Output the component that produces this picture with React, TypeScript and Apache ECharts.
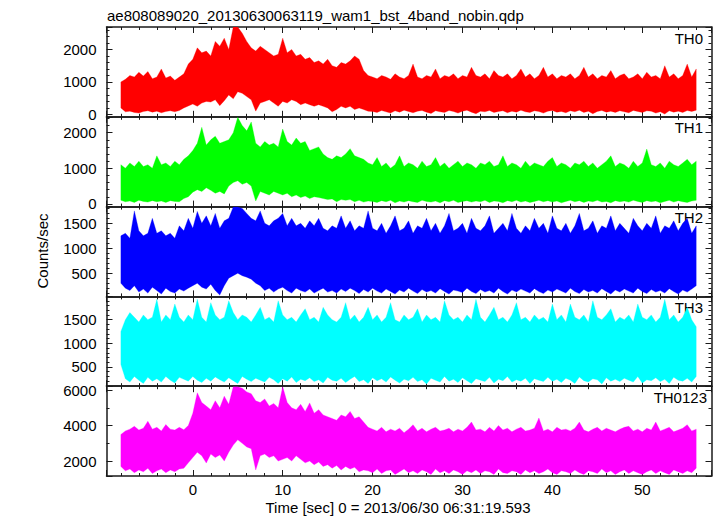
import React, { useEffect, useRef } from 'react';
import * as echarts from 'echarts';

const TITLE = 'ae808089020_20130630063119_wam1_bst_4band_nobin.qdp';
const X_LABEL = 'Time [sec] 0 = 2013/06/30 06:31:19.593';
const Y_LABEL = 'Counts/sec';

// time bins: first bin time and bin width (sec)
const T_START = -8;
const T_STEP = 0.5;
const X_MIN = -9.6;
const X_MAX = 57.7;
const X_INTERVAL = 10;

const bandNames = ['TH0', 'TH1', 'TH2', 'TH3', 'TH0123'];
const bandColors = ['#ff0000', '#00ff00', '#0000ff', '#00ffff', '#ff00ff'];
const yMins = [-74, -76, 34, 93, 1160];
const yMaxs = [2693, 2445, 1836, 1992, 6220];
const yIntervals = [1000, 1000, 500, 500, 2000];
const yMinorSplits = [5, 5, 5, 5, 2];

// upper / lower envelopes of each light curve per 0.5 s bin (counts/sec)
const th0High = [
  1000, 1080, 1200, 1150, 1300, 1180, 1320, 1100, 1150, 1400, 1120, 1180, 1050, 1150, 1250, 1550,
  1700, 2050, 1900, 1950, 1800, 2250, 2100, 2350, 2000, 2690, 2690, 2500, 2250, 2050, 1950, 2100,
  2000, 1900, 1800, 1850, 2350, 1900, 2000, 1800, 1850, 1700, 1750, 1600, 1650, 1550, 1700, 1500,
  1450, 1600, 1550, 1650, 1800, 1700, 1350, 1200, 1150, 1100, 1200, 1150, 1080, 1250, 1150, 1100,
  1200, 1550, 1150, 1100, 1200, 1150, 1400, 1100, 1200, 1150, 1250, 1100, 1200, 1150, 1450, 1200,
  1150, 1250, 1100, 1350, 1200, 1150, 1250, 1100, 1200, 1400, 1150, 1250, 1100, 1200, 1450, 1150,
  1250, 1100, 1200, 1150, 1250, 1100, 1200, 1450, 1150, 1250, 1100, 1200, 1150, 1350, 1100, 1200,
  1250, 1100, 1150, 1250, 1100, 1300, 1150, 1200, 1100, 1500, 1150, 1250, 1100, 1200, 1550, 1150,
  1400,
];
const th0Low = [
  200, 80, 100, 60, 40, 90, 110, 70, 100, 50, 90, 110, 80, 120, 200, 260,
  320, 250, 350, 400, 380, 450, 270, 420, 600, 480, 700, 650, 550, 450, 100, 350,
  400, 450, 350, 250, 400, 350, 450, 400, 300, 350, 300, 250, 300, 250, 200, 80,
  150, 250, 200, 250, 150, 200, 150, 100, 90, 60, 120, 80, 40, 110, 70, 130,
  90, 50, 100, 120, 70, 30, 110, 80, 60, 120, 90, 40, 100, 130, 70, 20,
  100, 80, 120, 60, 90, 110, 50, 100, 70, 130, 80, 60, 110, 90, 40, 100,
  120, 70, 90, 50, 110, 80, 130, 60, 100, 20, 90, 120, 70, 100, 60, 110,
  80, 50, 120, 90, 60, 110, 100, 40, 80, 10, 110, 70, 100, 60, 120, 90,
  130,
];
const th1High = [
  1100, 1000, 1150, 1050, 1200, 1050, 1100, 1000, 1350, 1100, 1150, 1050, 1200, 1100, 1250, 1350,
  1500, 1700, 2150, 1650, 1800, 1900, 1700, 1750, 1800, 2000, 2430, 2200, 2050, 2300, 1700, 1600,
  1750, 1650, 1700, 1600, 2100, 1750, 1650, 1850, 1700, 1750, 1500, 1550, 1600, 1400, 1300, 1250,
  1350, 1300, 1400, 1550, 1350, 1300, 1250, 1150, 1100, 1300, 1050, 1150, 1000, 1100, 1350, 1050,
  1150, 1100, 1000, 1200, 1050, 1100, 1300, 1050, 1150, 1000, 1100, 1200, 1050, 1150, 1100, 1000,
  1150, 1100, 1200, 1050, 1100, 1350, 1050, 1150, 1100, 1000, 1200, 1050, 1150, 1100, 1050, 1200,
  1300, 1050, 1150, 1100, 1000, 1150, 1100, 1200, 1050, 1150, 1000, 1100, 1200, 1350, 1050, 1150,
  1100, 1000, 1200, 1050, 1150, 1540, 1100, 1050, 1150, 1000, 1200, 1100, 1050, 1150, 1250, 1100,
  1200,
];
const th1Low = [
  100, 60, 80, 40, 100, 70, 50, 90, 60, 80, 40, 90, 70, 60, 150, 200,
  330, 400, 350, 450, 380, 300, 350, 280, 500, 600, 650, 550, 600, 500, 80, 350,
  300, 250, 350, 300, 250, 300, 200, 250, 180, 220, 150, 200, 180, 150, 120, 140,
  60, 120, 100, 120, 60, 100, 50, 80, 70, 40, 90, 60, 100, 30, 80, 50,
  90, 60, 40, 100, 70, 50, 80, 30, 90, 60, 100, 40, 70, 90, 50, 80,
  60, 100, 40, 80, 70, 30, 90, 60, 100, 50, 80, 40, 70, 100, 60, 90,
  50, 80, 30, 70, 100, 60, 90, 40, 80, 60, 100, 50, 70, 30, 90, 60,
  80, 50, 100, 70, 40, 90, 60, 80, 30, 70, 100, 50, 90, 60, 40, 80,
  100,
];
const th2High = [
  1250, 1300, 1200, 1750, 1350, 1250, 1300, 1600, 1300, 1350, 1250, 1300, 1200, 1450, 1350, 1600,
  1400, 1740, 1500, 1650, 1450, 1700, 1400, 1550, 1600, 1830, 1830, 1800, 1700, 1600, 1550, 1750,
  1500, 1450, 1550, 1600, 1700, 1450, 1600, 1450, 1500, 1400, 1550, 1450, 1600, 1400, 1350, 1450,
  1400, 1650, 1400, 1550, 1350, 1450, 1400, 1750, 1400, 1350, 1500, 1300, 1450, 1650, 1350, 1400,
  1550, 1300, 1450, 1400, 1600, 1350, 1500, 1300, 1450, 1700, 1350, 1400, 1500, 1300, 1600, 1400,
  1350, 1450, 1650, 1300, 1400, 1500, 1350, 1700, 1400, 1300, 1450, 1350, 1600, 1400, 1500, 1300,
  1650, 1400, 1350, 1500, 1300, 1450, 1700, 1350, 1400, 1550, 1300, 1450, 1400, 1650, 1350, 1500,
  1400, 1300, 1600, 1450, 1350, 1500, 1400, 1650, 1300, 1450, 1400, 1550, 1350, 1500, 1600, 1300,
  1450,
];
const th2Low = [
  300, 200, 150, 250, 120, 180, 100, 220, 150, 80, 200, 130, 100, 180, 140, 200,
  250, 300, 220, 180, 280, 150, 60, 250, 400, 450, 500, 450, 420, 380, 300, 250,
  150, 200, 120, 180, 220, 150, 100, 200, 150, 120, 180, 100, 150, 200, 120, 150,
  100, 180, 130, 200, 150, 90, 170, 120, 200, 140, 100, 180, 130, 80, 160, 120,
  200, 140, 90, 170, 120, 150, 100, 190, 130, 80, 160, 140, 110, 200, 130, 90,
  170, 120, 150, 100, 200, 130, 80, 160, 120, 180, 140, 100, 190, 130, 90, 160,
  120, 180, 140, 100, 200, 130, 90, 170, 120, 150, 100, 190, 130, 80, 160, 120,
  180, 140, 100, 200, 130, 90, 170, 120, 150, 100, 190, 130, 80, 160, 120, 180,
  250,
];
const th3High = [
  1250, 1500, 1650, 1550, 1450, 1600, 1500, 1550, 1930, 1450, 1600, 1500, 1830, 1550, 1450, 1600,
  1500, 1930, 1550, 1450, 1860, 1600, 1500, 1550, 1900, 1650, 1500, 1600, 1550, 1450, 1600, 1760,
  1500, 1550, 1450, 1900, 1600, 1500, 1550, 1450, 1600, 1730, 1500, 1550, 1450, 1760, 1600, 1500,
  1450, 1550, 1860, 1500, 1600, 1450, 1550, 1760, 1500, 1600, 1450, 1550, 1860, 1500, 1450, 1600,
  1500, 1550, 1730, 1450, 1600, 1500, 1550, 1450, 1900, 1600, 1500, 1550, 1450, 1600, 1500, 1930,
  1550, 1450, 1600, 1760, 1500, 1550, 1450, 1600, 1860, 1500, 1550, 1450, 1600, 1500, 1550, 1450,
  1830, 1500, 1600, 1450, 1830, 1550, 1500, 1600, 1450, 1900, 1550, 1500, 1600, 1730, 1450, 1550,
  1500, 1600, 1450, 1830, 1550, 1500, 1600, 1450, 1550, 1930, 1500, 1600, 1450, 1550, 1760, 1500,
  1350,
];
const th3Low = [
  550, 250, 180, 300, 220, 150, 280, 200, 250, 180, 300, 220, 160, 280, 240, 200,
  300, 220, 170, 260, 200, 290, 230, 180, 270, 210, 150, 300, 240, 190, 260, 220,
  180, 280, 230, 150, 250, 200, 290, 170, 240, 210, 270, 190, 230, 160, 280, 220,
  200, 260, 170, 240, 300, 190, 230, 150, 270, 210, 250, 180, 290, 220, 160, 240,
  210, 280, 190, 230, 140, 260, 220, 180, 300, 200, 240, 170, 270, 210, 150, 250,
  220, 190, 280, 160, 240, 210, 300, 180, 230, 200, 260, 150, 250, 220, 190, 280,
  200, 240, 170, 260, 220, 150, 290, 210, 180, 250, 230, 140, 270, 200, 240, 190,
  260, 220, 180, 300, 160, 230, 210, 270, 190, 240, 150, 280, 220, 200, 260, 180,
  300,
];
const th0123High = [
  3500, 3700, 3800, 3960, 3750, 3850, 4245, 3800, 3900, 3700, 4060, 3800, 3750, 3900, 3770, 4000,
  4700, 5850, 5300, 5100, 4900, 5400, 5000, 5660, 5200, 6190, 6190, 6100, 5900, 5800, 5400, 5300,
  5500, 5100, 5250, 5000, 6190, 5300, 5000, 4900, 5200, 4800, 5280, 4700, 4900, 4600, 4500, 4400,
  4300, 4600, 4500, 4800, 4400, 4500, 4200, 3900, 3800, 3700, 3900, 3650, 3800, 3700, 3850, 3600,
  3800, 4050, 3700, 3850, 3650, 3800, 3900, 3700, 3750, 3850, 3650, 3800, 3700, 3900, 4200, 3750,
  3800, 3650, 3900, 3700, 4000, 3750, 3850, 3650, 3800, 3900, 3700, 3750, 3850, 4430, 3700, 3800,
  3650, 3900, 3750, 3800, 3700, 3850, 4200, 3750, 3650, 3800, 3900, 3700, 3850, 3750, 3650, 3800,
  3900, 3960, 3700, 3800, 3650, 3850, 3750, 4200, 3700, 3800, 3900, 3650, 3750, 3850, 4050, 3700,
  3800,
];
const th0123Low = [
  1700, 1450, 1550, 1350, 1500, 1400, 1600, 1300, 1450, 1550, 1350, 1500, 1400, 1550, 1600, 1900,
  2200, 2500, 2300, 1890, 2400, 2200, 2350, 2000, 2500, 2900, 3200, 3000, 2800, 2700, 1500, 2300,
  2400, 2200, 2300, 2000, 2100, 2200, 2000, 2300, 2100, 1900, 2000, 1800, 1950, 1700, 1800, 1600,
  1750, 1500, 1700, 1550, 1650, 1400, 1500, 1450, 1350, 1550, 1300, 1450, 1500, 1250, 1400, 1550,
  1350, 1450, 1300, 1500, 1400, 1250, 1550, 1350, 1450, 1300, 1500, 1400, 1250, 1450, 1350, 1500,
  1300, 1450, 1400, 1250, 1550, 1350, 1300, 1450, 1400, 1250, 1500, 1350, 1450, 1300, 1400, 1550,
  1350, 1250, 1450, 1400, 1300, 1500, 1350, 1250, 1450, 1400, 1300, 1550, 1350, 1450, 1250, 1400,
  1500, 1300, 1450, 1350, 1250, 1400, 1500, 1300, 1450, 1350, 1250, 1500, 1400, 1300, 1450, 1350,
  1600,
];

const highs = [th0High, th1High, th2High, th3High, th0123High];
const lows = [th0Low, th1Low, th2Low, th3Low, th0123Low];

// layout
const W = 717;
const H = 516;
const GRID_LEFT = 106.5;
const GRID_RIGHT = 5.5;
const GRID_TOP = 27;
const GRID_H = 89.8;
const FONT = '"Liberation Sans", Arial, Helvetica, sans-serif';
const AXIS_COLOR = '#1a1a1a';

const multipleOf = (step: number) => (v: number) => {
  const r = Math.abs(v / step - Math.round(v / step));
  return r < 1e-6 ? String(Math.round(v)) : '';
};

export default function App() {
  const ref = useRef<HTMLDivElement>(null);
  useEffect(() => {
    if (!ref.current) return;
    const chart = echarts.init(ref.current, null, { renderer: 'svg' });
    const grids: any[] = [];
    const xAxes: any[] = [];
    const yAxes: any[] = [];
    const series: any[] = [];
    const graphics: any[] = [];

    for (let p = 0; p < 5; p++) {
      const top = GRID_TOP + p * GRID_H;
      grids.push({ left: GRID_LEFT, right: GRID_RIGHT, top, height: GRID_H });
      const lineStyle = { color: AXIS_COLOR, width: 1.5 };
      const tickStyle = { color: AXIS_COLOR, width: 1 };
      const xBase = {
        type: 'value',
        gridIndex: p,
        min: X_MIN,
        max: X_MAX,
        minInterval: X_INTERVAL,
        maxInterval: X_INTERVAL,
        splitLine: { show: false },
        axisLine: { show: true, onZero: false, lineStyle },
        axisTick: { show: true, inside: true, length: 6, lineStyle: tickStyle },
        minorTick: { show: true, splitNumber: 5, length: 3, lineStyle: tickStyle },
        minorSplitLine: { show: false },
      };
      xAxes.push({
        ...xBase,
        position: 'bottom',
        axisLabel: {
          show: p === 4,
          formatter: multipleOf(X_INTERVAL),
          fontSize: 15,
          fontFamily: FONT,
          color: '#000',
          margin: 6,
        },
      });
      xAxes.push({ ...xBase, position: 'top', axisLabel: { show: false } });

      const yBase = {
        type: 'value',
        gridIndex: p,
        min: yMins[p],
        max: yMaxs[p],
        minInterval: yIntervals[p],
        maxInterval: yIntervals[p],
        splitLine: { show: false },
        axisLine: { show: true, onZero: false, lineStyle },
        axisTick: { show: true, inside: true, length: 6, lineStyle: tickStyle },
        minorTick: { show: true, splitNumber: yMinorSplits[p], length: 3, lineStyle: tickStyle },
        minorSplitLine: { show: false },
      };
      yAxes.push({
        ...yBase,
        position: 'left',
        axisLabel: {
          show: true,
          formatter: multipleOf(yIntervals[p]),
          fontSize: 15,
          fontFamily: FONT,
          color: '#000',
          margin: 10,
        },
      });
      yAxes.push({ ...yBase, position: 'right', axisLabel: { show: false } });

      const hi = highs[p];
      const lo = lows[p];
      const color = bandColors[p];
      series.push({
        type: 'custom',
        xAxisIndex: 2 * p,
        yAxisIndex: 2 * p,
        clip: true,
        silent: true,
        data: [[T_START, lo[0], hi[0]]],
        renderItem: (_params: any, api: any) => {
          const up = hi.map((v, i) => api.coord([T_START + i * T_STEP, v]));
          const dn = lo.map((v, i) => api.coord([T_START + i * T_STEP, v])).reverse();
          return {
            type: 'polygon',
            shape: { points: up.concat(dn) },
            style: { fill: color, stroke: color, lineWidth: 0.6, strokeOpacity: 0.5 },
          };
        },
      });

      graphics.push({
        type: 'text',
        x: bandNames[p].length > 3 ? 707 : 703,
        y: top + 11,
        style: {
          text: bandNames[p],
          fontSize: 15,
          fontFamily: FONT,
          fill: '#000',
          textAlign: 'right',
          align: 'right',
          textVerticalAlign: 'middle',
          verticalAlign: 'middle',
        },
      });
    }

    graphics.push({
      type: 'text',
      x: 107,
      y: 15,
      style: {
        text: TITLE,
        fontSize: 15,
        fontFamily: FONT,
        fill: '#000',
        textAlign: 'left',
        align: 'left',
        textVerticalAlign: 'middle',
        verticalAlign: 'middle',
      },
    });
    graphics.push({
      type: 'text',
      x: 398,
      y: 507,
      style: {
        text: X_LABEL,
        fontSize: 15,
        fontFamily: FONT,
        fill: '#000',
        textAlign: 'center',
        align: 'center',
        textVerticalAlign: 'middle',
        verticalAlign: 'middle',
      },
    });
    graphics.push({
      type: 'text',
      x: 42,
      y: 251,
      rotation: Math.PI / 2,
      style: {
        text: Y_LABEL,
        fontSize: 15,
        fontFamily: FONT,
        fill: '#000',
        textAlign: 'center',
        align: 'center',
        textVerticalAlign: 'middle',
        verticalAlign: 'middle',
      },
    });

    chart.setOption({
      animation: false,
      backgroundColor: '#ffffff',
      grid: grids,
      xAxis: xAxes,
      yAxis: yAxes,
      series,
      graphic: graphics,
    });
    return () => chart.dispose();
  }, []);

  return (
    <div
      ref={ref}
      style={{ position: 'fixed', left: 0, top: 0, width: W, height: H }}
    />
  );
}
